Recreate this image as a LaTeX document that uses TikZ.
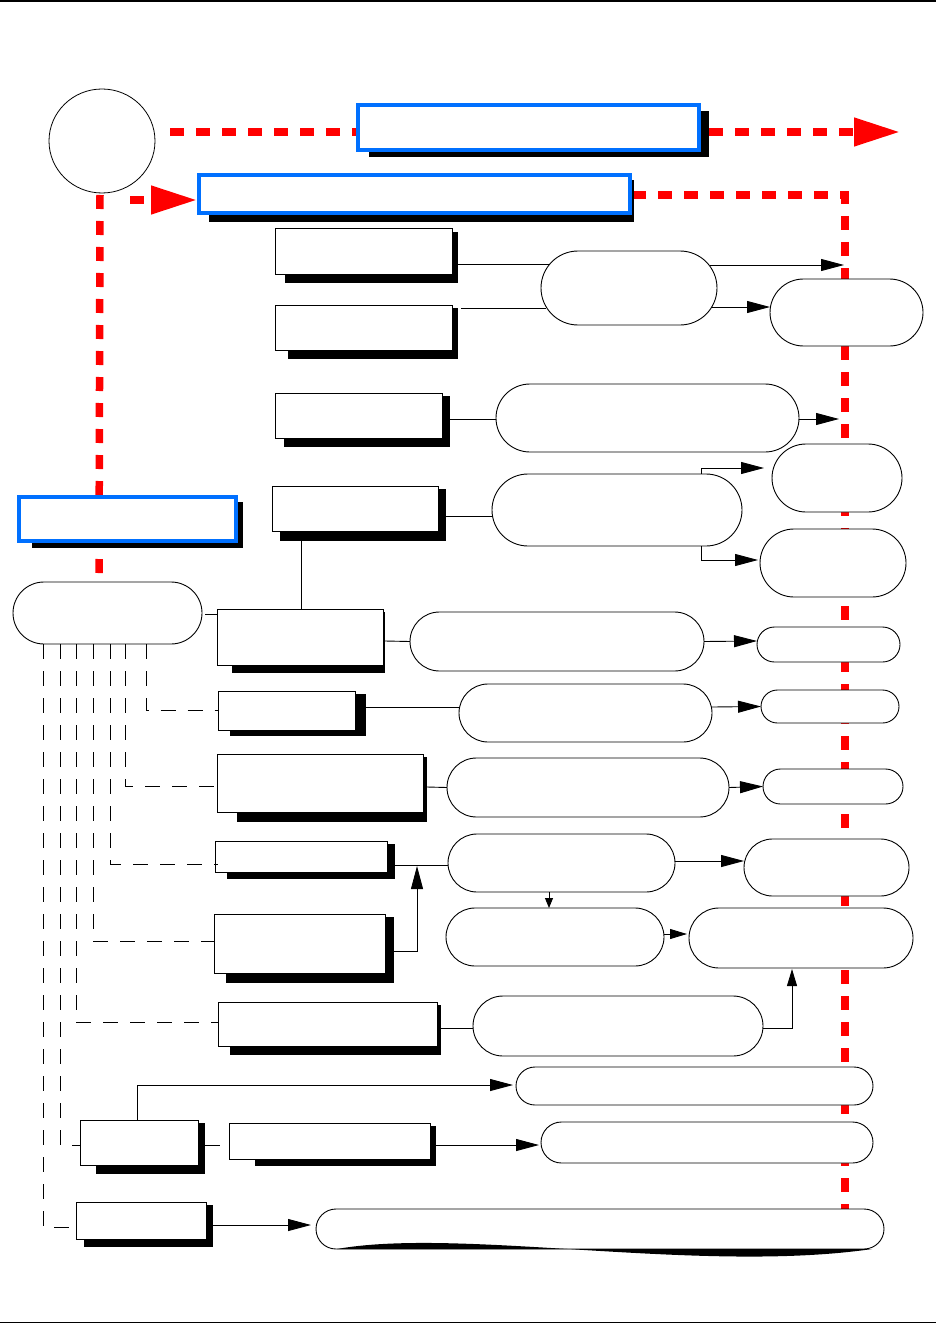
\documentclass[tikz,border=0pt]{standalone}
\usetikzlibrary{arrows.meta,shapes.misc,shapes.geometric}
\definecolor{fmblue}{RGB}{0,112,255}
\definecolor{fmred}{RGB}{255,0,0}
\pgfdeclarelayer{background}
\pgfsetlayers{background,main}
\tikzset{
 bbox/.style={draw=black,line width=1pt,fill=white,rectangle,inner sep=0pt,outer sep=0pt},
 bluebox/.style={draw=fmblue,line width=4pt,fill=white,rectangle,inner sep=0pt,outer sep=0pt},
 stadium/.style={draw=black,line width=0.9pt,fill=white,rounded rectangle,inner sep=0pt,outer sep=0pt},
 conn/.style={draw=black,line width=0.9pt},
 arr/.style={conn,-{Triangle[length=23pt,width=12pt]}},
 smallarr/.style={conn,-{Triangle[length=10pt,width=8pt]}},
 midarr/.style={conn,-{Triangle[length=17pt,width=10pt]}},
 reddash/.style={draw=fmred,line width=7.5pt,dash pattern=on 14pt off 12pt},
 redarr/.style={reddash,-{Triangle[length=46pt,width=27pt]}},
 thindash/.style={draw=black,line width=0.9pt,dash pattern=on 15pt off 12pt},
 shadowfill/.style={fill=black},
}
\newcommand\shbox[9]{%
  \fill[shadowfill] (#6,#7) rectangle (#8,#9);
  \node[bbox,minimum width={(#4-#2)*1pt},minimum height={(#5-#3)*1pt}] (#1) at ({(#2+#4)/2},{(#3+#5)/2}) {};}
\newcommand\blbox[9]{%
  \fill[shadowfill] (#6,#7) rectangle (#8,#9);
  \node[bluebox,minimum width={(#4-#2)*1pt},minimum height={(#5-#3)*1pt}] (#1) at ({(#2+#4)/2},{(#3+#5)/2}) {};}
\newcommand\stad[5]{%
  \node[stadium,minimum width={(#4-#2)*1pt},minimum height={(#5-#3)*1pt}] (#1) at ({(#2+#4)/2},{(#3+#5)/2}) {};}
\begin{document}
\begin{tikzpicture}[x=1pt,y=-1pt]
\useasboundingbox (0,0) rectangle (936,1324);
% page rules
\draw[line width=1.4pt] (0,1) -- (936,1);
\draw[line width=1.4pt] (0,1322.5) -- (936,1322.5);

% start circle
\node[draw,ellipse,line width=0.8pt,minimum width=106pt,minimum height=104pt,inner sep=0pt,outer sep=0pt] (C0) at (102,141) {};

% blue boxes
\blbox{BL1}{358}{105}{699}{150}{369}{111}{709}{157}
\blbox{BL2}{199}{175}{630}{213}{209}{180}{634}{222}
\blbox{BL3}{19}{497}{236}{541}{32}{502}{243}{548}

% black shadowed boxes
\shbox{B1}{275}{229}{452}{274}{285}{232}{458}{283}
\shbox{B2}{275}{305}{452}{350}{288}{308}{458}{359}
\shbox{B3}{275}{393}{442}{438}{284}{396}{450}{447}
\shbox{B4}{272}{486}{438}{531}{280}{489}{446}{541}
\shbox{B5}{217}{609}{383}{665}{232}{612}{385}{673}
\shbox{B6}{218}{691}{355}{730}{230}{694}{366}{736}
\shbox{B7}{217}{754}{423}{812}{237}{757}{427}{822}
\shbox{B8}{215}{841}{387}{872}{227}{844}{395}{879}
\shbox{B9}{214}{914}{385}{973}{226}{917}{394}{983}
\shbox{B10}{218}{1002}{437}{1046}{230}{1005}{441}{1055}
\shbox{B11}{80}{1120}{198}{1165}{96}{1123}{205}{1174}
\shbox{B12}{229}{1123}{430}{1159}{255}{1126}{436}{1166}
\shbox{B13}{76}{1202}{206}{1239}{84}{1205}{213}{1247}

% rounded (stadium) nodes
\stad{EL}{13}{582}{202}{644}
\stad{E1}{541}{251}{717}{325}
\stad{R1}{770}{279}{923}{346}
\stad{E2}{496}{384}{799}{452}
\stad{E3}{492}{474}{742}{546}
\stad{R2}{772}{444}{902}{512}
\stad{R3}{760}{529}{906}{597}
\stad{E4}{410}{612}{704}{671}
\stad{R4}{757}{627}{900}{662}
\stad{E5}{459}{684}{712}{742}
\stad{R5}{761}{690}{899}{723}
\stad{E6}{447}{758}{729}{817}
\stad{R6}{763}{769}{903}{804}
\stad{E7}{448}{834}{675}{892}
\stad{R7}{744}{839}{909}{896}
\stad{E8}{446}{908}{664}{966}
\stad{R8}{689}{908}{913}{968}
\stad{E9}{473}{996}{763}{1056}
\stad{E10}{516}{1067}{873}{1105}
\stad{E11}{541}{1122}{873}{1163}
\stad{E12}{316}{1209}{884}{1249}
% wavy shadow under E12
\fill[black] (337,1249) .. controls (460,1227) and (700,1274) .. (872,1249) -- cycle;

% free ends
\coordinate (redtip) at (900,132);
\coordinate (tipA) at (844,265);
\coordinate (tipB) at (839,419);

% red dashed flow (behind the nodes)
\begin{pgfonlayer}{background}
\draw[reddash] ([shift={(15,-9)}]C0.east) -- ([shift={(0,4.5)}]BL1.west);
\draw[redarr] ([shift={(10,4.5)}]BL1.east) -- (redtip);
\draw[redarr] ([shift={(28,7)}]C0.south) -- ([shift={(-2,6)}]BL2.west);
\draw[reddash] ([shift={(2,1)}]BL2.east) -| ([shift={(245,0)}]E12.north);
\draw[reddash] ([shift={(-2,2)}]C0.south) -- ([shift={(-8.5,0)}]EL.north);
\end{pgfonlayer}

% black connectors
\draw[conn] ([shift={(6,12.5)}]B1.east) -- ([shift={(8,-24)}]E1.west);
\draw[conn] ([shift={(9,-19.5)}]B2.east) -- ([shift={(5,20)}]E1.west);
\draw[arr] ([shift={(-7,-23)}]E1.east) -- (tipA);
\draw[arr] ([shift={(-5,19)}]E1.east) -- ([shift={(0,-5.5)}]R1.west);
\draw[conn] ([shift={(8,3.5)}]B3.east) -- ([shift={(0,1)}]E2.west);
\draw[arr] ([shift={(0,1)}]E2.east) -- (tipB);
\draw[conn] ([shift={(8,7.5)}]B4.east) -- ([shift={(0,6)}]E3.west);
\draw[conn] ([shift={(-54,10)}]B4.south) -- ([shift={(1,0)}]B5.north);
\draw[arr] ([shift={(84,0)}]E3.north) |- ([shift={(-8,-10)}]R2.west);
\draw[arr] ([shift={(84,0)}]E3.south) |- ([shift={(-2,-3)}]R3.west);
\draw[conn] ([shift={(3,1)}]EL.east) -- ([shift={(0,5)}]B5.north west);
\draw[conn] ([shift={(2,4)}]B5.east) -- (E4.west);
\draw[arr] (E4.east) -- ([shift={(0,-3.5)}]R4.west);
\draw[conn] ([shift={(11,-3.5)}]B6.east) -- ([shift={(0,-6)}]E5.west);
\draw[arr] ([shift={(0,-6)}]E5.east) -- (R5.west);
\draw[conn] ([shift={(4,4)}]B7.east) -- (E6.west);
\draw[arr] (E6.east) -- (R6.west);
\draw[conn] ([shift={(8,8.5)}]B8.east) -- ([shift={(0,2)}]E7.west);
\draw[arr] ([shift={(9,7.5)}]B9.east) -| ([shift={(30,9.5)}]B8.east);
\draw[arr] ([shift={(0,-2)}]E7.east) -- ([shift={(0,-6.5)}]R7.west);
\draw[smallarr] ([shift={(-12.5,0)}]E7.south) -- ([shift={(-6,0)}]E8.north);
\draw[midarr] ([shift={(0,-3)}]E8.east) -- ([shift={(-2,-4)}]R8.west);
\draw[conn] ([shift={(4,4)}]B10.east) -- ([shift={(0,2)}]E9.west);
\draw[midarr] ([shift={(0,2)}]E9.east) -| ([shift={(-9,1)}]R8.south);
\draw[arr] ([shift={(-2,0)}]B11.north) |- ([shift={(-3,-1)}]E10.west);
\draw[thindash] ([shift={(7,2.5)}]B11.east) -- ([shift={(0,4)}]B12.west);
\draw[arr] ([shift={(6,4)}]B12.east) -- ([shift={(-2,2.5)}]E11.west);
\draw[arr] ([shift={(7,4.5)}]B13.east) -- ([shift={(-5,-4)}]E12.west);

% dashed links from the left stadium
\draw[thindash] ([shift={(38.5,0)}]EL.south) |- (B6.west);
\draw[thindash] ([shift={(17.5,0)}]EL.south) |- ([shift={(0,3)}]B7.west);
\draw[thindash] ([shift={(2.5,0)}]EL.south) |- ([shift={(3,7.5)}]B8.west);
\draw[thindash] ([shift={(-14.5,0)}]EL.south) |- ([shift={(0,-2.5)}]B9.west);
\draw[thindash] ([shift={(-31.5,0)}]EL.south) |- ([shift={(0,-2)}]B10.west);
\draw[thindash] ([shift={(-47.5,0)}]EL.south) |- ([shift={(0,2.5)}]B11.west);
\draw[thindash] ([shift={(-64.5,0)}]EL.south) |- ([shift={(0,6.5)}]B13.west);
\end{tikzpicture}
\end{document}
